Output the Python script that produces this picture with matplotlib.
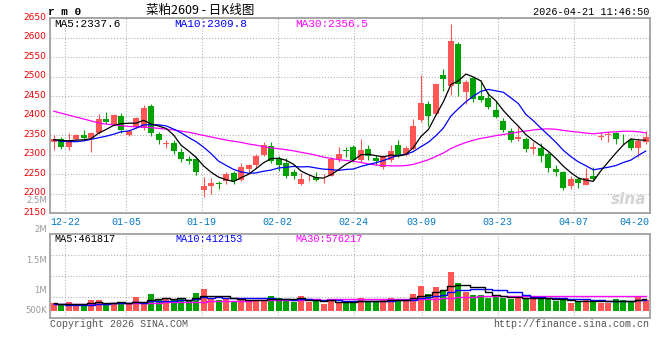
import matplotlib
matplotlib.use('Agg')
import matplotlib.pyplot as plt
import matplotlib.transforms as mtransforms
import numpy as np

# rm0 daily K line, 2025-12-18 .. 2026-04-21 (80 sessions)
opens = [2333, 2341, 2319, 2341, 2351, 2343, 2356, 2392, 2378, 2399,
         2352, 2372, 2368, 2425, 2354, 2328, 2331, 2308, 2290, 2289,
         2209, 2219, 2228, 2234, 2253, 2236, 2264, 2273, 2300, 2323,
         2289, 2279, 2256, 2225, 2237, 2244, 2240, 2247, 2290, 2313,
         2320, 2287, 2315, 2293, 2270, 2287, 2326, 2300, 2315, 2390,
         2431, 2404, 2504, 2477, 2584, 2461, 2498, 2452, 2445, 2415,
         2387, 2362, 2340, 2341, 2315, 2317, 2303, 2264, 2256, 2219,
         2238, 2223, 2246, 2345, 2350, 2356, 2347, 2338, 2317, 2332]
highs = [2350, 2346, 2355, 2353, 2364, 2358, 2404, 2409, 2404, 2407,
         2364, 2396, 2428, 2431, 2358, 2338, 2338, 2317, 2296, 2296,
         2244, 2240, 2234, 2256, 2260, 2279, 2277, 2303, 2332, 2332,
         2296, 2291, 2263, 2253, 2249, 2257, 2250, 2294, 2321, 2321,
         2326, 2341, 2326, 2300, 2300, 2326, 2337, 2324, 2392, 2505,
         2439, 2485, 2519, 2636, 2590, 2492, 2500, 2492, 2462, 2439,
         2394, 2368, 2374, 2347, 2332, 2330, 2307, 2274, 2259, 2246,
         2244, 2266, 2268, 2358, 2358, 2360, 2353, 2344, 2343, 2362]
lows = [2312, 2315, 2313, 2336, 2338, 2308, 2353, 2379, 2376, 2357,
        2349, 2368, 2364, 2348, 2328, 2317, 2303, 2283, 2277, 2249,
        2193, 2200, 2212, 2226, 2225, 2232, 2256, 2266, 2297, 2279,
        2259, 2242, 2238, 2224, 2232, 2234, 2229, 2245, 2281, 2294,
        2281, 2281, 2287, 2273, 2264, 2283, 2294, 2298, 2313, 2384,
        2373, 2402, 2465, 2454, 2450, 2431, 2435, 2435, 2418, 2394,
        2360, 2332, 2336, 2307, 2302, 2283, 2256, 2247, 2210, 2212,
        2216, 2222, 2233, 2338, 2334, 2327, 2327, 2313, 2294, 2327]
closes = [2340, 2321, 2338, 2351, 2343, 2355, 2393, 2385, 2403, 2364,
          2361, 2394, 2421, 2357, 2337, 2330, 2310, 2289, 2284, 2255,
          2221, 2229, 2226, 2251, 2232, 2270, 2273, 2298, 2326, 2285,
          2275, 2247, 2247, 2239, 2239, 2236, 2242, 2290, 2303, 2309,
          2287, 2313, 2296, 2285, 2294, 2311, 2300, 2317, 2374, 2434,
          2401, 2482, 2494, 2593, 2482, 2488, 2444, 2441, 2422, 2398,
          2364, 2339, 2345, 2315, 2321, 2298, 2266, 2256, 2215, 2238,
          2229, 2240, 2239, 2349, 2353, 2341, 2345, 2317, 2336, 2347]
volumes = [320000, 255000, 350000, 230000, 230000, 415000, 430000, 230000, 255000, 350000,
           280000, 550000, 290000, 670000, 470000, 470000, 455000, 455000, 390000, 710000,
           870000, 470000, 430000, 470000, 390000, 520000, 360000, 400000, 390000, 600000,
           495000, 430000, 360000, 590000, 360000, 375000, 270000, 470000, 360000, 330000,
           330000, 520000, 390000, 330000, 470000, 510000, 470000, 390000, 670000, 990000,
           670000, 950000, 790000, 1550000, 1110000, 760000, 630000, 630000, 520000, 630000,
           520000, 470000, 520000, 470000, 520000, 520000, 470000, 400000, 430000, 320000,
           390000, 470000, 415000, 320000, 320000, 470000, 430000, 390000, 590000, 430000]

# moving averages as drawn on the chart
ma5 = [2339, 2337, 2336, 2338, 2338.6, 2341.6, 2356, 2365.4, 2375.8, 2380,
       2381.2, 2381.4, 2388.6, 2379.4, 2374, 2367.8, 2351, 2324.6, 2310, 2293.6,
       2271.8, 2255.6, 2243, 2236.4, 2231.8, 2241.6, 2250.4, 2264.8, 2279.8, 2290.4,
       2291.4, 2286.2, 2276, 2258.6, 2249.4, 2241.6, 2240.6, 2249.2, 2262, 2276,
       2286.2, 2300.4, 2301.6, 2298, 2295, 2299.8, 2297.2, 2301.4, 2319.2, 2347.2,
       2365.2, 2401.6, 2436.6, 2480.4, 2490, 2507.4, 2499.8, 2489.6, 2455.4, 2438.6,
       2413.8, 2392.8, 2373.6, 2352.2, 2336.8, 2323.6, 2309, 2291.2, 2271.2, 2254.6,
       2240.8, 2235.6, 2232.2, 2259, 2282, 2304.4, 2325.4, 2341, 2338.4, 2337.6]
ma10 = [2339, 2335, 2334, 2334, 2336, 2340, 2344, 2348, 2353, 2359.3,
        2361.4, 2368.7, 2377, 2377.6, 2377, 2374.5, 2366.2, 2356.6, 2344.7, 2333.8,
        2319.8, 2303.3, 2283.8, 2273.2, 2262.7, 2256.7, 2253, 2253.9, 2258.1, 2261.1,
        2266.5, 2268.3, 2270.4, 2269.2, 2269.9, 2266.5, 2263.4, 2262.6, 2260.3, 2262.7,
        2263.9, 2270.5, 2275.4, 2280, 2285.5, 2293, 2298.8, 2301.5, 2308.6, 2321.1,
        2332.5, 2349.4, 2369, 2399.8, 2418.6, 2436.3, 2450.7, 2463.1, 2467.9, 2464.3,
        2460.6, 2446.3, 2431.6, 2403.8, 2387.7, 2368.7, 2350.9, 2332.4, 2311.7, 2295.7,
        2282.2, 2272.3, 2261.7, 2265.1, 2268.3, 2272.6, 2280.5, 2286.6, 2298.7, 2309.8]
ma30 = [2412, 2407, 2402, 2397, 2392, 2387, 2382, 2379, 2377, 2375,
        2373, 2372, 2371, 2370, 2368, 2366, 2364, 2361, 2358, 2354,
        2350, 2346, 2342, 2338, 2335, 2332, 2328, 2325, 2321, 2318.1,
        2315.9, 2313.4, 2310.4, 2306.7, 2303.2, 2299.2, 2294.2, 2291.0, 2287.7, 2285.9,
        2283.4, 2280.7, 2276.5, 2274.1, 2272.7, 2272.1, 2271.7, 2272.7, 2275.7, 2281.6,
        2287.6, 2296.1, 2304.9, 2316.3, 2324.7, 2331.9, 2337.6, 2342.4, 2345.6, 2349.4,
        2352.3, 2355.4, 2358.7, 2361.2, 2363.9, 2366.0, 2366.8, 2365.7, 2362.7, 2360.4,
        2358.4, 2356.0, 2354.1, 2356.2, 2358.2, 2359.2, 2360.7, 2360.7, 2359.4, 2356.5]
vol_ma5 = [290000, 280000, 285000, 275000, 277000, 296000, 331000, 307000, 312000, 336000,
           309000, 333000, 345000, 428000, 452000, 490000, 471000, 504000, 448000, 496000,
           576000, 579000, 574000, 590000, 526000, 456000, 434000, 428000, 412000, 454000,
           449000, 463000, 455000, 495000, 447000, 423000, 391000, 413000, 367000, 361000,
           352000, 402000, 386000, 380000, 408000, 444000, 434000, 434000, 502000, 606000,
           638000, 734000, 814000, 990000, 1014000, 1032000, 968000, 936000, 730000, 634000,
           586000, 554000, 532000, 522000, 500000, 500000, 500000, 476000, 468000, 428000,
           402000, 402000, 405000, 383000, 383000, 399000, 391000, 386000, 440000, 461817]
vol_ma10 = [255000, 250000, 245000, 242000, 240000, 248000, 260000, 275000, 290000, 306500,
            302500, 332000, 326000, 370000, 394000, 399500, 402000, 424500, 438000, 474000,
            533000, 525000, 539000, 519000, 511000, 516000, 506500, 501000, 501000, 490000,
            452500, 448500, 441500, 453500, 450500, 436000, 427000, 434000, 431000, 404000,
            387500, 396500, 399500, 373500, 384500, 398000, 418000, 410000, 441000, 507000,
            541000, 584000, 624000, 746000, 810000, 835000, 851000, 875000, 860000, 824000,
            809000, 761000, 734000, 626000, 567000, 543000, 527000, 504000, 495000, 464000,
            451000, 451000, 440500, 425500, 405500, 400500, 396500, 395500, 411500, 412153]
vol_ma30 = [270000, 270000, 272000, 275000, 278000, 280000, 283000, 286000, 290000, 295000,
            300000, 305000, 310000, 318000, 325000, 332000, 338000, 344000, 350000, 358000,
            368000, 375000, 382000, 389000, 395000, 402000, 408000, 414000, 419000, 423500,
            429300, 435200, 435500, 447500, 451800, 450500, 445200, 453200, 456700, 456000,
            457700, 456700, 460000, 448700, 448700, 450000, 450500, 448300, 457700, 467000,
            460300, 476300, 488300, 524300, 548300, 556300, 565300, 573000, 577300, 578300,
            579200, 580500, 585800, 581800, 587200, 592000, 598700, 596300, 598700, 598300,
            600300, 598700, 599500, 599200, 594200, 592800, 591500, 591500, 588800, 576217]

date_idx = [2, 10, 20, 30, 40, 49, 59, 69]
date_labels = ['12-22', '01-05', '01-19', '02-02', '02-24', '03-09', '03-23', '04-07']
last_label = '04-20'

RED = '#ff5555'
GREEN = '#00a300'
GRID = dict(color='#b4b4b4', linestyle=(0, (1, 1.6)), linewidth=0.8)
MONO = 'Liberation Mono'

W, H = 660, 360
def fx(px): return px / W
def fy(py): return 1 - py / H

fig = plt.figure(figsize=(6.6, 3.6), dpi=100)
ax = fig.add_axes([fx(50), fy(213.4), fx(599.5), 195 / H])
axv = fig.add_axes([fx(50), fy(317.7), fx(599.5), 83.4 / H])

x = np.arange(len(closes))
o, c = np.array(opens), np.array(closes)
colors = np.where(c >= o, RED, GREEN)
body_lo = np.minimum(o, c)
body_h = np.maximum(np.abs(c - o), 1.3)

# grid lines sit on a slightly different spacing than the candles
grid_x = [-0.5 + i * len(x) / (len(x) - 1) for i in date_idx]

for a in (ax, axv):
    a.set_xlim(-0.5, len(x) - 0.5)
    for s in a.spines.values():
        s.set_color('#a0a0a0')
        s.set_linewidth(1.3)
    a.set_xticks(grid_x)
    a.grid(True, **GRID)
    a.set_axisbelow(True)

# price panel
ax.vlines(x, lows, highs, colors=colors, linewidth=0.8, zorder=2)
ax.bar(x, body_h, 0.8, bottom=body_lo, color=colors, linewidth=0, zorder=2)
ax.plot(x, ma30, color='#ff00ff', lw=0.9, zorder=3)
ax.plot(x, ma10, color='#0000ff', lw=0.9, zorder=3)
ax.plot(x, ma5, color='black', lw=0.9, zorder=3)
ax.set_ylim(2150, 2650)
ax.set_yticks(range(2150, 2651, 50))
ax.tick_params(axis='y', length=0, pad=3, labelcolor='#ee0000', labelsize=6.5)
ax.tick_params(axis='x', length=0, pad=2.5, labelcolor='#0078c8', labelsize=7.2)
ax.set_xticklabels(date_labels, fontfamily=MONO)
up = mtransforms.ScaledTranslation(0, 1.6 / 72, fig.dpi_scale_trans)
for lbl in ax.get_yticklabels():
    lbl.set_transform(lbl.get_transform() + up)
ax.text(len(x) - 0.5, -0.018, last_label, transform=ax.get_xaxis_transform(),
        ha='right', va='top', fontsize=7.2, color='#0078c8', fontfamily=MONO)
ax.text(0.965, 0.07, 'sina', transform=ax.transAxes, ha='center', va='center',
        fontsize=11, fontstyle='italic', fontweight='bold', color='#d2d2d2', zorder=1)

# volume panel
axv.bar(x, volumes, 0.8, color=colors, linewidth=0, zorder=2)
axv.plot(x, vol_ma30, color='#ff00ff', lw=1.0, drawstyle='steps-mid', zorder=3)
axv.plot(x, vol_ma10, color='#0000ff', lw=1.0, drawstyle='steps-mid', zorder=3)
axv.plot(x, vol_ma5, color='black', lw=1.0, drawstyle='steps-mid', zorder=3)
vlo, vhi = -280000, 3056000
axv.set_ylim(vlo, vhi)
axv.set_yticks(np.linspace(vlo, vhi, 5)[1:-1])
axv.tick_params(length=0, labelleft=False, labelbottom=False)

# volume scale labels (placed as on the original)
for txt, py in [('2.5M', 200.5), ('2M', 230), ('1.5M', 260.7), ('1M', 290.7), ('500K', 310.7)]:
    fig.text(fx(47), fy(py), txt, ha='right', va='center', fontsize=6.1, color='#999999')

# header texts
fig.text(fx(48), fy(12), 'r m 0', ha='left', va='center', fontsize=8,
         fontweight='bold', fontfamily=MONO)
fig.text(fx(200), fy(10), '菜粕2609 - 日K线图', ha='center', va='center', fontsize=9,
         fontfamily=['Noto Sans CJK SC', 'DejaVu Sans'])
fig.text(fx(649), fy(12), '2026-04-21 11:46:50', ha='right', va='center',
         fontsize=7.3, fontfamily=MONO)

fig.text(fx(54), fy(24), 'MA5:2337.6', ha='left', va='center', fontsize=8, fontfamily=MONO, color='black')
fig.text(fx(174), fy(24), 'MA10:2309.8', ha='left', va='center', fontsize=8, fontfamily=MONO, color='#0000ff')
fig.text(fx(295), fy(24), 'MA30:2356.5', ha='left', va='center', fontsize=8, fontfamily=MONO, color='#ff00ff')

fig.text(fx(54), fy(239), 'MA5:461817', ha='left', va='center', fontsize=7.3, fontfamily=MONO, color='black')
fig.text(fx(175), fy(239), 'MA10:412153', ha='left', va='center', fontsize=7.3, fontfamily=MONO, color='#0000ff')
fig.text(fx(295), fy(239), 'MA30:576217', ha='left', va='center', fontsize=7.3, fontfamily=MONO, color='#ff00ff')

fig.text(fx(50), fy(324), 'Copyright 2026 SINA.COM', ha='left', va='center',
         fontsize=7.2, fontfamily=MONO, color='#555555')
fig.text(fx(649), fy(324), 'http://finance.sina.com.cn', ha='right', va='center',
         fontsize=7.2, fontfamily=MONO, color='#555555')

fig.savefig('out.png', dpi=100, facecolor='white')
